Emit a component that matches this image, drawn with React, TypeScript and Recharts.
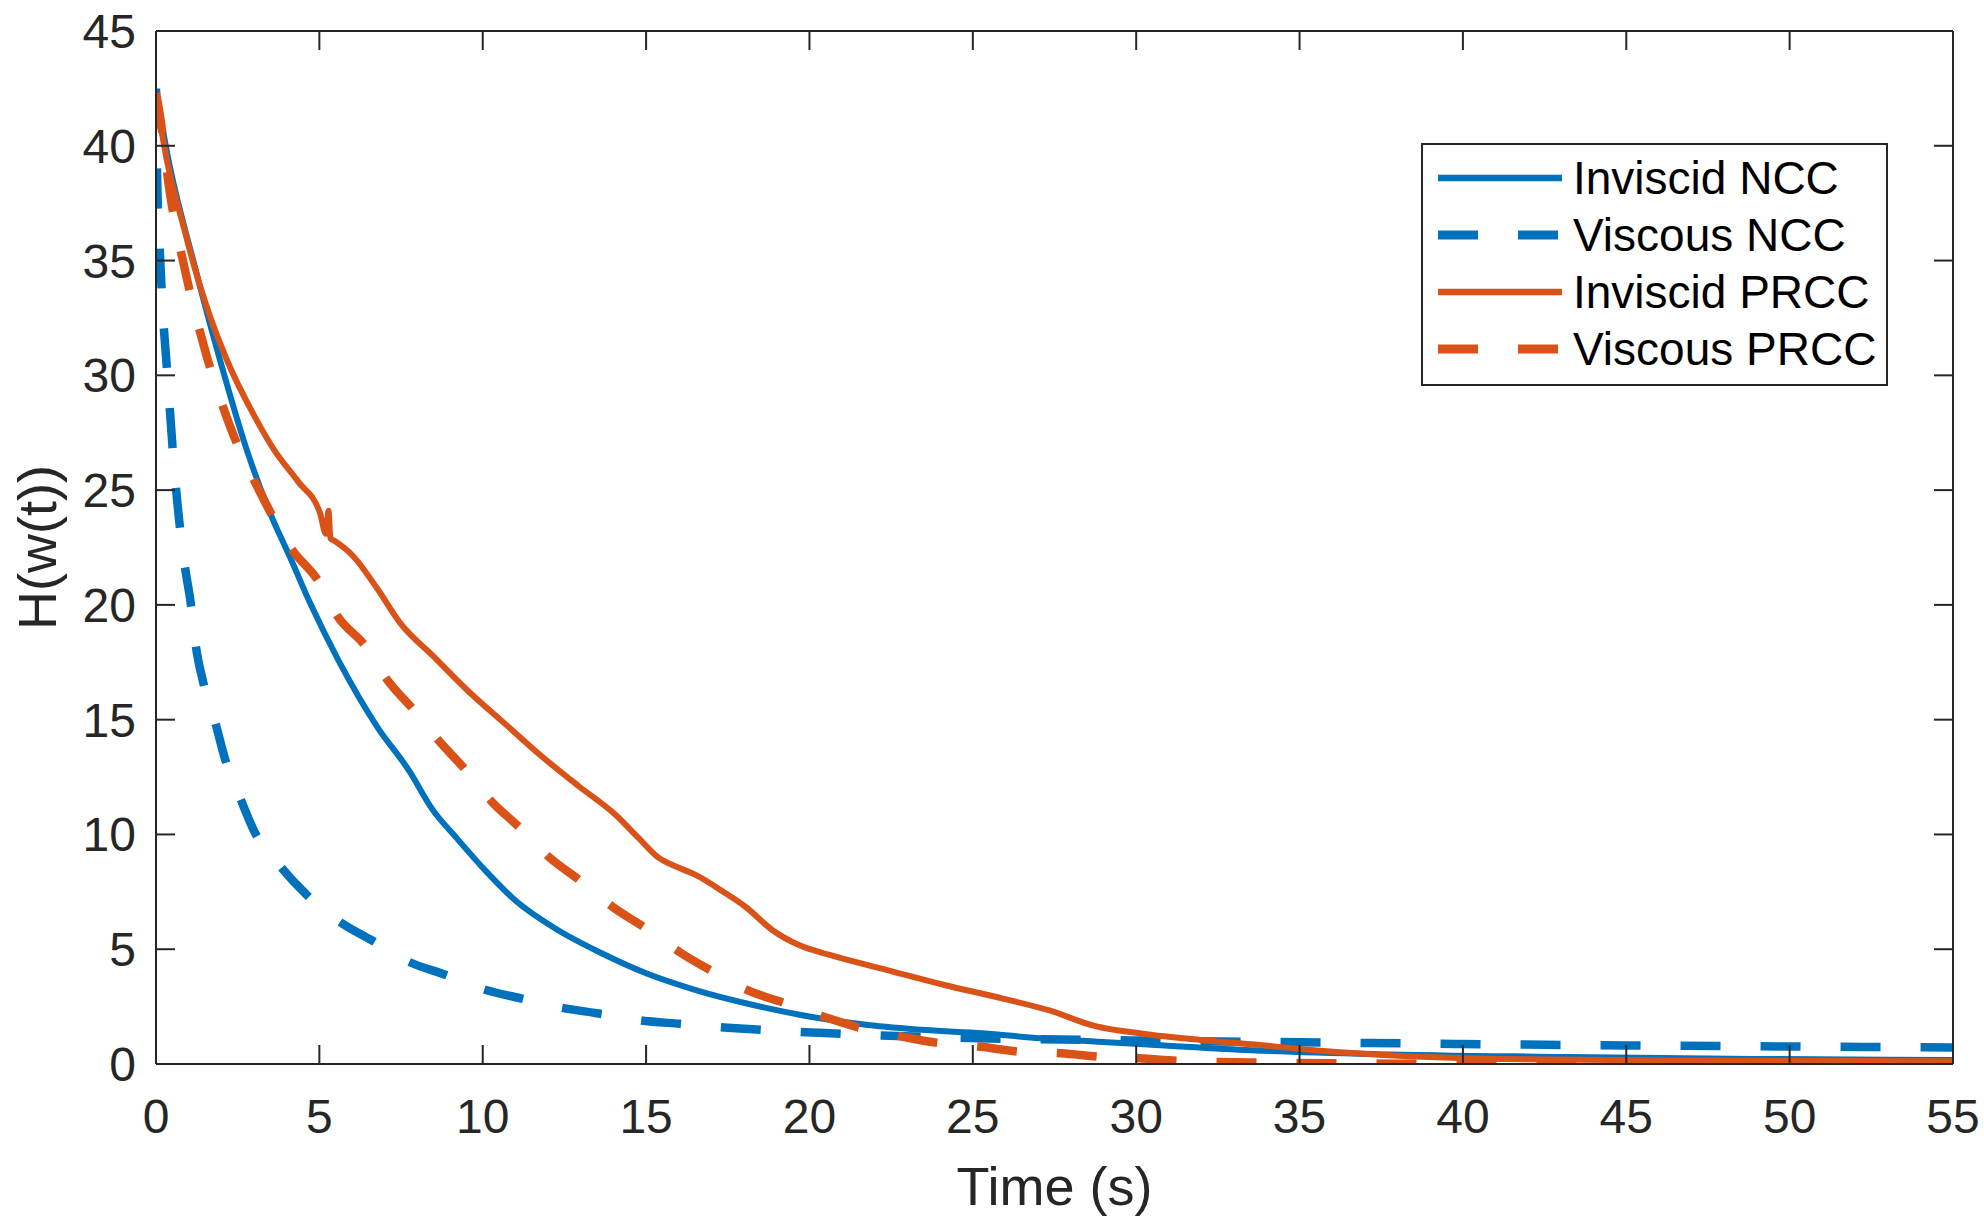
import React from "react";
import { LineChart, Line, XAxis, YAxis, Legend, Label } from "recharts";

const FONT = '"Liberation Sans", Arial, Helvetica, sans-serif';
const AXIS_COLOR = "#262626";

const xTicks = [0, 5, 10, 15, 20, 25, 30, 35, 40, 45, 50, 55];
const yTicks = [0, 5, 10, 15, 20, 25, 30, 35, 40, 45];

// Inviscid NCC (solid blue)
const tInviscidNCC = [
  0, 0.38, 1.14, 1.96, 2.78, 3.5, 4.11, 4.71, 5.56, 6.77, 7.74, 8.47, 9.19, 10.04,
  11.01, 12.22, 13.67, 15.0, 16.52, 18.28, 20.03, 21.79, 23.55, 25.3, 27.06, 28.82,
  30.58, 33.52, 37.36, 43.13, 48.9, 55,
];
const hInviscidNCC = [
  42.4, 39.4, 35.0, 30.66, 26.74, 23.98, 22.05, 20.1, 17.65, 14.69, 12.79, 11.07, 9.86,
  8.49, 7.11, 5.9, 4.8, 3.95, 3.22, 2.57, 2.06, 1.7, 1.48, 1.34, 1.12, 0.97, 0.83, 0.6,
  0.43, 0.31, 0.22, 0.17,
];

// Viscous NCC (dashed blue)
const tViscousNCC = [
  0, 0.03, 0.1, 0.2, 0.35, 0.5, 0.65, 0.85, 1.07, 1.21, 1.45, 1.81, 2.11, 2.6, 3.02, 3.81,
  4.59, 5.62, 6.59, 7.74, 8.83, 10.04, 11.19, 12.4, 13.55, 14.82, 16.03, 17.5, 20.3, 22.7,
  25.2, 27.7, 30.1, 35, 40, 45, 50, 55,
];
const hViscousNCC = [
  42.5, 39, 36, 33, 30, 27, 24.5, 22, 20, 18.3, 16.6, 14.9, 13.3, 11.5, 10.1, 8.6, 7.4,
  6.2, 5.4, 4.45, 3.9, 3.25, 2.85, 2.45, 2.2, 1.9, 1.75, 1.58, 1.36, 1.22, 1.12, 1.07,
  1.02, 0.95, 0.87, 0.81, 0.76, 0.72,
];

// Inviscid PRCC (solid orange)
const tInviscidPRCC = [
  0, 0.33, 0.84, 1.14, 1.55, 2.16, 3.08, 3.62, 4.35, 5.02, 5.2, 5.28, 5.34, 5.45, 6.05,
  6.77, 7.5, 8.47, 9.56, 10.65, 11.74, 12.94, 14.03, 14.76, 15.37, 15.93, 16.5, 17.42,
  18.04, 18.86, 19.68, 20.62, 22.38, 24.13, 25.89, 27.37, 28.72, 30.2, 31.96, 33.52,
  35.44, 38.32, 41.2, 47, 55,
];
const hInviscidPRCC = [
  42.1, 39.4, 36.5, 34.9, 33.0, 30.7, 28.05, 26.74, 25.37, 24.0, 23.1, 24.1, 22.9, 22.8,
  22.1, 20.71, 19.16, 17.79, 16.24, 14.86, 13.48, 12.1, 10.9, 9.86, 9.0, 8.59, 8.25, 7.45,
  6.85, 5.84, 5.18, 4.75, 4.09, 3.44, 2.86, 2.32, 1.66, 1.32, 1.05, 0.86, 0.6, 0.34, 0.22,
  0.15, 0.12,
];

// Viscous PRCC (dashed orange)
const tViscousPRCC = [
  0, 0.1, 0.42, 0.9, 1.5, 2.26, 3.26, 4.17, 4.96, 5.56, 6.41, 7.07, 7.86, 8.65, 9.43,
  10.28, 11.13, 12.04, 13.0, 13.97, 15.0, 16.03, 17.06, 18.1, 19.27, 20.44, 21.61, 22.84,
  24.01, 25.25, 26.42, 27.71, 28.88, 30.11, 31.28, 33.5, 36, 40, 45, 50, 55,
];
const hViscousPRCC = [
  42.3, 41.5, 38.0, 34.5, 31.1, 27.8, 24.7, 22.4, 21.06, 19.5, 18.2, 16.75, 15.46, 14.09,
  12.88, 11.42, 10.3, 9.0, 7.97, 6.85, 5.9, 4.87, 4.01, 3.22, 2.64, 2.06, 1.55, 1.19, 0.9,
  0.75, 0.54, 0.47, 0.32, 0.25, 0.14, 0.07, 0.03, 0.01, 0.01, 0, 0,
];

const toRows = (t: number[], h: number[]) => t.map((x, i) => ({ t: x, h: h[i] }));

const seriesList = [
  { key: "invNCC", name: "Inviscid NCC", color: "#0072BD", width: 6, dash: undefined, rows: toRows(tInviscidNCC, hInviscidNCC) },
  { key: "visNCC", name: "Viscous NCC", color: "#0072BD", width: 8.5, dash: "40 40", rows: toRows(tViscousNCC, hViscousNCC) },
  { key: "invPRCC", name: "Inviscid PRCC", color: "#D95319", width: 6, dash: undefined, rows: toRows(tInviscidPRCC, hInviscidPRCC) },
  { key: "visPRCC", name: "Viscous PRCC", color: "#D95319", width: 8.5, dash: "40 40", rows: toRows(tViscousPRCC, hViscousPRCC) },
];

const LegendBox = () => (
  <svg width={467} height={243} style={{ display: "block" }}>
    <rect x={1} y={1} width={465} height={241} fill="#fff" stroke={AXIS_COLOR} strokeWidth={2} />
    {seriesList.map((s, i) => {
      const cy = 35 + i * 57;
      return (
        <g key={s.key}>
          <line x1={17} x2={141} y1={cy} y2={cy} stroke={s.color} strokeWidth={s.dash ? 9 : 6.5} strokeDasharray={s.dash} />
          <text x={152} y={cy} dy="0.355em" fontSize={46} fontFamily={FONT} fill="#000">
            {s.name}
          </text>
        </g>
      );
    })}
  </svg>
);

const tickStyle = { fontSize: 48, fill: AXIS_COLOR, fontFamily: FONT };
const axisLineStyle = { stroke: AXIS_COLOR, strokeWidth: 2 };

export default function App() {
  return (
    <div style={{ position: "absolute", left: 0, top: 0, width: 1984, height: 1219, background: "#fff" }}>
      <LineChart width={1984} height={1219} margin={{ top: 30, right: 30, bottom: 0, left: 0 }}>
        <XAxis
          xAxisId="main"
          dataKey="t"
          type="number"
          domain={[0, 55]}
          ticks={xTicks}
          interval={0}
          allowDataOverflow
          height={155}
          tick={tickStyle}
          tickSize={-19}
          tickMargin={54}
          tickLine={axisLineStyle}
          axisLine={axisLineStyle}
        >
          <Label
            content={({ viewBox }: any) => (
              <text
                x={viewBox.x + viewBox.width / 2}
                y={viewBox.y + 141}
                textAnchor="middle"
                fontSize={54}
                fontFamily={FONT}
                fill={AXIS_COLOR}
              >
                Time (s)
              </text>
            )}
          />
        </XAxis>
        <XAxis
          xAxisId="top"
          orientation="top"
          dataKey="t"
          type="number"
          domain={[0, 55]}
          ticks={xTicks}
          interval={0}
          allowDataOverflow
          height={1}
          tickFormatter={() => ""}
          tickSize={-19}
          tickLine={axisLineStyle}
          axisLine={axisLineStyle}
        />
        <YAxis
          yAxisId="main"
          type="number"
          domain={[0, 45]}
          ticks={yTicks}
          interval={0}
          allowDataOverflow
          width={156}
          tick={tickStyle}
          tickSize={-19}
          tickMargin={39}
          tickLine={axisLineStyle}
          axisLine={axisLineStyle}
        >
          <Label
            content={({ viewBox }: any) => {
              const cx = viewBox.x + 56;
              const cy = viewBox.y + viewBox.height / 2;
              return (
                <text
                  x={cx}
                  y={cy}
                  transform={`rotate(-90, ${cx}, ${cy})`}
                  textAnchor="middle"
                  fontSize={54}
                  fontFamily={FONT}
                  fill={AXIS_COLOR}
                >
                  H(w(t))
                </text>
              );
            }}
          />
        </YAxis>
        <YAxis
          yAxisId="right"
          orientation="right"
          type="number"
          domain={[0, 45]}
          ticks={yTicks}
          interval={0}
          allowDataOverflow
          width={1}
          tickFormatter={() => ""}
          tickSize={-19}
          tickLine={axisLineStyle}
          axisLine={axisLineStyle}
        />
        {seriesList.map((s) => (
          <Line
            key={s.key}
            xAxisId="main"
            yAxisId="main"
            data={s.rows}
            dataKey="h"
            name={s.name}
            type="monotone"
            stroke={s.color}
            strokeWidth={s.width}
            strokeDasharray={s.dash}
            dot={false}
            activeDot={false}
            isAnimationActive={false}
          />
        ))}
        <Legend
          layout="vertical"
          align="center"
          verticalAlign="middle"
          content={() => <LegendBox />}
          wrapperStyle={{ position: "absolute", left: 1421, top: 143, width: 467, height: 243, bottom: "auto", right: "auto" }}
        />
      </LineChart>
    </div>
  );
}
